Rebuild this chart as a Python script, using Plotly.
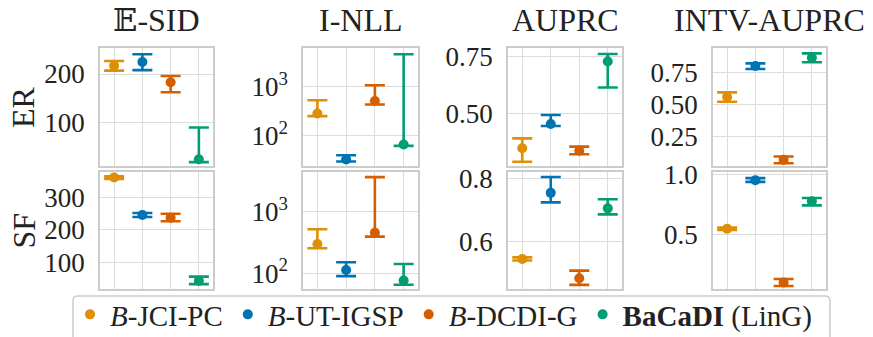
import plotly.graph_objects as go

# ---------------- data ----------------
methods = ["<i>B</i>-JCI-PC", "<i>B</i>-UT-IGSP", "<i>B</i>-DCDI-G", "<b>BaCaDI</b> (LinG)"]
colors = ["#de8f05", "#0173b2", "#d55e00", "#029e73"]
metrics = ["𝔼-SID", "I-NLL", "AUPRC", "INTV-AUPRC"]
graphs = ["ER", "SF"]

# ER graphs  (mean, lower, upper) per method
er_esid_mean = [217, 225, 183, 23]
er_esid_low = [207, 208, 162, 17]
er_esid_high = [227, 241, 196, 89]

er_inll_mean = [283, 32, 513, 65]
er_inll_low = [249, 29, 433, 61]
er_inll_high = [531, 39, 1080, 4700]

er_auprc_mean = [0.344, 0.452, 0.333, 0.730]
er_auprc_low = [0.284, 0.443, 0.317, 0.614]
er_auprc_high = [0.388, 0.492, 0.351, 0.763]

er_intv_mean = [0.560, 0.802, 0.068, 0.867]
er_intv_low = [0.523, 0.779, 0.042, 0.831]
er_intv_high = [0.596, 0.823, 0.094, 0.901]

# SF graphs
sf_esid_mean = [360, 245, 237, 43]
sf_esid_low = [356, 239, 226, 33]
sf_esid_high = [364, 251, 249, 56]

sf_inll_mean = [298, 113, 455, 76]
sf_inll_low = [254, 90, 392, 65]
sf_inll_high = [516, 151, 3600, 141]

sf_auprc_mean = [0.546, 0.755, 0.485, 0.706]
sf_auprc_low = [0.541, 0.725, 0.464, 0.687]
sf_auprc_high = [0.551, 0.805, 0.509, 0.735]

sf_intv_mean = [0.550, 0.953, 0.103, 0.778]
sf_intv_low = [0.540, 0.940, 0.075, 0.745]
sf_intv_high = [0.560, 0.971, 0.133, 0.806]

panels = [
    [(er_esid_mean, er_esid_low, er_esid_high), (er_inll_mean, er_inll_low, er_inll_high),
     (er_auprc_mean, er_auprc_low, er_auprc_high), (er_intv_mean, er_intv_low, er_intv_high)],
    [(sf_esid_mean, sf_esid_low, sf_esid_high), (sf_inll_mean, sf_inll_low, sf_inll_high),
     (sf_auprc_mean, sf_auprc_low, sf_auprc_high), (sf_intv_mean, sf_intv_low, sf_intv_high)],
]

# y tick values per panel
yticks = [
    [[100, 200], [100, 1000], [0.5, 0.75], [0.25, 0.5, 0.75]],
    [[100, 200, 300], [100, 1000], [0.6, 0.8], [0.5, 1.0]],
]
ytick_text = [
    [["100", "200"], ["10<sup>2</sup>", "10<sup>3</sup>"], ["0.50", "0.75"], ["0.25", "0.50", "0.75"]],
    [["100", "200", "300"], ["10<sup>2</sup>", "10<sup>3</sup>"], ["0.6", "0.8"], ["0.5", "1.0"]],
]

# ---------------- layout config ----------------
W, H = 873, 337
col_px = [(100, 213), (303, 418), (508, 622), (713, 826)]
row_px = [(48, 166), (172, 289)]
yranges = [
    [[9, 254], [1.37, 3.8], [0.265, 0.79], [0.02, 0.943]],
    [[18, 377], [1.745, 3.64], [0.451, 0.821], [0.05, 1.022]],
]

FONT = "'Liberation Serif', 'DejaVu Serif', 'Times New Roman', serif"
grid_c = "#dcdcdc"
line_c = "#cccccc"
txt_c = "#222222"

fig = go.Figure()
layout = dict(
    width=W, height=H, margin=dict(l=0, r=0, t=0, b=0, autoexpand=False),
    paper_bgcolor="white", plot_bgcolor="white",
    font=dict(family=FONT, size=26, color=txt_c),
    showlegend=True,
)

for r in range(2):
    for c in range(4):
        idx = r * 4 + c + 1
        xa = "x" if idx == 1 else f"x{idx}"
        ya = "y" if idx == 1 else f"y{idx}"
        mean, low, high = panels[r][c]
        for m in range(4):
            fig.add_trace(go.Scatter(
                x=[m], y=[mean[m]],
                mode="markers",
                marker=dict(color=colors[m], size=10),
                error_y=dict(type="data", symmetric=False,
                             array=[high[m] - mean[m]],
                             arrayminus=[mean[m] - low[m]],
                             color=colors[m], thickness=2.6, width=10),
                name=methods[m], legendgroup=methods[m],
                showlegend=(idx == 1),
                xaxis=xa, yaxis=ya,
            ))
        x0, x1 = col_px[c]
        y0, y1 = row_px[r]
        layout[f"xaxis{idx if idx > 1 else ''}"] = dict(
            domain=[x0 / W, x1 / W], anchor=ya,
            range=[-0.5, 3.5], tickvals=[0, 1, 2, 3], showticklabels=False,
            showgrid=True, gridcolor=grid_c, gridwidth=1,
            showline=True, linecolor=line_c, linewidth=1.5, mirror=True,
            zeroline=False, ticks="",
        )
        ydict = dict(
            domain=[1 - y1 / H, 1 - y0 / H], anchor=xa,
            range=yranges[r][c],
            tickvals=yticks[r][c], ticktext=ytick_text[r][c],
            showgrid=True, gridcolor=grid_c, gridwidth=1,
            showline=True, linecolor=line_c, linewidth=1.5, mirror=True,
            zeroline=False, ticks="", ticklabelstandoff=8,
            tickfont=dict(family=FONT, size=27, color=txt_c),
        )
        if c == 1:
            ydict["type"] = "log"
        layout[f"yaxis{idx if idx > 1 else ''}"] = ydict

annotations = []
for c in range(4):
    x0, x1 = col_px[c]
    annotations.append(dict(
        text=metrics[c], x=(x0 + x1) / 2 / W, y=1 - 20 / H,
        xref="paper", yref="paper", xanchor="center", yanchor="middle",
        showarrow=False, font=dict(family=FONT, size=32, color=txt_c),
    ))
for r in range(2):
    y0, y1 = row_px[r]
    annotations.append(dict(
        text=graphs[r], x=23 / W, y=1 - (y0 + y1) / 2 / H,
        xref="paper", yref="paper", xanchor="center", yanchor="middle",
        textangle=-90, showarrow=False,
        font=dict(family=FONT, size=32, color=txt_c),
    ))
layout["annotations"] = annotations

# legend frame: rounded box drawn as a shape (bottom runs past the page edge)
bx0, bx1, by0, by1, rad = 73, 830, 296, 350, 5
def px(x):
    return x / W
def py(y):
    return 1 - y / H
frame = (f"M {px(bx0 + rad)},{py(by0)} L {px(bx1 - rad)},{py(by0)} "
         f"Q {px(bx1)},{py(by0)} {px(bx1)},{py(by0 + rad)} "
         f"L {px(bx1)},{py(by1)} L {px(bx0)},{py(by1)} "
         f"L {px(bx0)},{py(by0 + rad)} Q {px(bx0)},{py(by0)} {px(bx0 + rad)},{py(by0)} Z")
layout["shapes"] = [dict(type="path", path=frame, xref="paper", yref="paper",
                         line=dict(color="#cccccc", width=1.5),
                         fillcolor="rgba(0,0,0,0)", layer="above")]

layout["legend"] = dict(
    orientation="h", x=70 / W, y=1 - 289 / H, xanchor="left", yanchor="top",
    borderwidth=0, bgcolor="rgba(0,0,0,0)",
    font=dict(family=FONT, size=29, color=txt_c),
    itemsizing="trace", tracegroupgap=0,
)

fig.update_layout(**layout)
fig.write_html("out.html", config={"displayModeBar": False},
               post_script="document.body.style.margin='0';document.body.style.overflow='hidden';")
